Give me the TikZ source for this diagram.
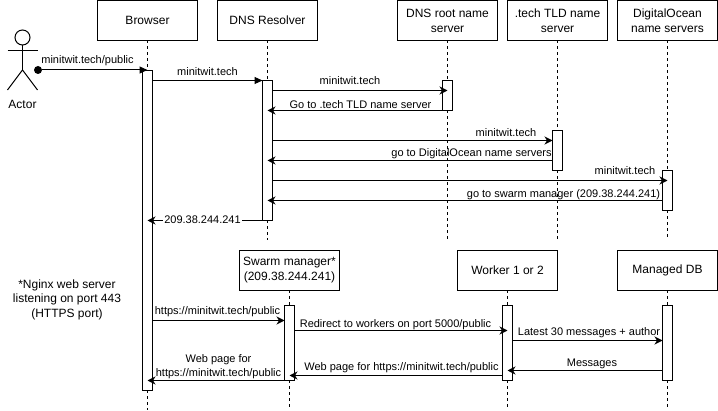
\documentclass[tikz,border=0pt]{standalone}
\usepackage{fontspec}
\setmainfont{Liberation Sans}
\usetikzlibrary{arrows.meta}
\usetikzlibrary{positioning}
\begin{document}
\begin{tikzpicture}[x=1pt,y=-1pt,line width=1pt,node distance=20pt,
          box/.style={draw,minimum width=100pt,minimum height=40pt,inner sep=0pt,outer sep=0pt,align=center,font=\fontsize{12}{15}\selectfont},
          bar/.style={draw,fill=white,minimum width=10pt,inner sep=0pt,outer sep=0pt},
          lifeline/.style={dash pattern=on 3pt off 3pt},
          lbl/.style={inner sep=0pt,align=center,font=\fontsize{11}{14}\selectfont},
          call/.style={-{Triangle[length=8pt,width=7pt]}},
          msg/.style={-{Stealth[length=8pt,width=8pt,inset=2.5pt]}}]
          \useasboundingbox (0,0) rectangle (718,411);
          % top row
          \node[box](browser) at (147.5,20.5){Browser};
          \node[box,right=of browser](resolver){DNS Resolver};
          \node[box,right=80pt of resolver](root){DNS root name\\server};
          \node[box,right=10pt of root](tld){.tech TLD name\\server};
          \node[box,right=10pt of tld](ocean){DigitalOcean\\name servers};
          % bottom row
          \node[box](swarm) at (289.5,270.5){Swarm manager*\\(209.38.244.241)};
          \node[box](worker) at (507.5,270.5){Worker 1 or 2};
          \node[box](db) at (667.5,270.5){Managed DB};
          % activation bars
          \node[bar,minimum height=320pt](browserbar) at (147.5,230.5){};
          \node[bar,minimum height=140pt](resolverbar) at (267.5,150.5){};
          \node[bar,minimum height=30pt](rootbar) at (447.5,95.5){};
          \node[bar,minimum height=40pt](tldbar) at (557.5,150.5){};
          \node[bar,minimum height=40pt](oceanbar) at (667.5,190.5){};
          \node[bar,minimum height=75pt](swarmbar) at (289.5,343){};
          \node[bar,minimum height=75pt](workerbar) at (507.5,343){};
          \node[bar,minimum height=75pt](dbbar) at (667.5,343){};
          % lifelines
          \coordinate (browserend) at (147.5,410);
          \coordinate (resolverend) at (267.5,240);
          \coordinate (rootend) at (447.5,240);
          \coordinate (tldend) at (557.5,240);
          \coordinate (oceanend) at (667.5,240);
          \coordinate (swarmend) at (289.5,408);
          \coordinate (workerend) at (507.5,408);
          \coordinate (dbend) at (667.5,408);
          \foreach \who in {browser,resolver,root,tld,ocean,swarm,worker,db}{
            \draw[lifeline](\who.south)--(\who bar.north);
            \draw[lifeline](\who bar.south)--(\who end);
          }
          % actor
          \node[draw,circle,minimum size=15pt,inner sep=0pt,outer sep=0pt](head) at (22.5,37.5){};
          \coordinate (hip) at (22.5,70);
          \coordinate (armleft) at (7.5,50.5);
          \coordinate (armright) at (37.5,50.5);
          \coordinate (footleft) at (7.5,90);
          \coordinate (footright) at (37.5,90);
          \draw(head.south)--(hip);
          \draw(armleft)--(armright);
          \draw(footleft)--(hip)--(footright);
          \node[lbl,font=\fontsize{12}{15}\selectfont](actor) at (22.5,104.5){Actor};
          \node[circle,fill=black,minimum size=8pt,inner sep=0pt,outer sep=0pt](dot) at (38,70){};
          % dns messages
          \draw[call](dot)--(browserbar.center |- dot);
          \draw[call](browserbar.east |- 0,80.5)--(resolverbar.west |- 0,80.5);
          \draw[msg](resolverbar.east |- 0,90.5)--(rootbar.center |- 0,90.5);
          \draw[msg](rootbar.west |- 0,110.5)--(resolverbar.center |- 0,110.5);
          \draw[msg](resolverbar.east |- 0,140.5)--(tldbar.west |- 0,140.5);
          \draw[msg](tldbar.west |- 0,160.5)--(resolverbar.center |- 0,160.5);
          \draw[msg](resolverbar.east |- 0,180.5)--(oceanbar.center |- 0,180.5);
          \draw[msg](oceanbar.west |- 0,200.5)--(resolverbar.center |- 0,200.5);
          \draw[msg](resolverbar.west |- 0,220.5)--(browserbar.center |- 0,220.5);
          % web messages
          \draw[msg](browserbar.east |- 0,320.5)--(swarmbar.west |- 0,320.5);
          \draw[msg](swarmbar.east |- 0,330.5)--(workerbar.center |- 0,330.5);
          \draw[msg](workerbar.east |- 0,340.5)--(dbbar.west |- 0,340.5);
          \draw[msg](dbbar.west |- 0,370.5)--(workerbar.center |- 0,370.5);
          \draw[msg](workerbar.west |- 0,375.5)--(swarmbar.center |- 0,375.5);
          \draw[msg](swarmbar.west |- 0,380.5)--(browserbar.center |- 0,380.5);
          % labels
          \node[lbl](l1) at (87.5,61){minitwit.tech/public};
          \node[lbl](l2) at (207.5,71.5){minitwit.tech};
          \node[lbl](l3) at (350,80.5){minitwit.tech};
          \node[lbl](l4) at (360.5,105){Go to .tech TLD name server};
          \node[lbl](l5) at (506,132.5){minitwit.tech};
          \node[lbl](l6) at (471.5,153.5){go to DigitalOcean name servers};
          \node[lbl](l7) at (625,170.5){minitwit.tech};
          \node[lbl](l8) at (563.5,194.5){go to swarm manager (209.38.244.241)};
          \node[lbl,fill=white,inner xsep=1pt](l9) at (202.5,220){209.38.244.241};
          \node[lbl](l10) at (217.5,311.5){https://minitwit.tech/public};
          \node[lbl](l11) at (395.5,324.5){Redirect to workers on port 5000/public};
          \node[lbl](l12) at (589,333){Latest 30 messages + author};
          \node[lbl](l13) at (592,363.5){Messages};
          \node[lbl](l14) at (401.5,367.5){Web page for https://minitwit.tech/public};
          \node[lbl](l15) at (218.5,367){Web page for\\https://minitwit.tech/public};
          \node[lbl,font=\fontsize{12}{14.5}\selectfont](note) at (67,299.5){*Nginx web server\\listening on port 443\\(HTTPS port)};
        \end{tikzpicture}
\end{document}
